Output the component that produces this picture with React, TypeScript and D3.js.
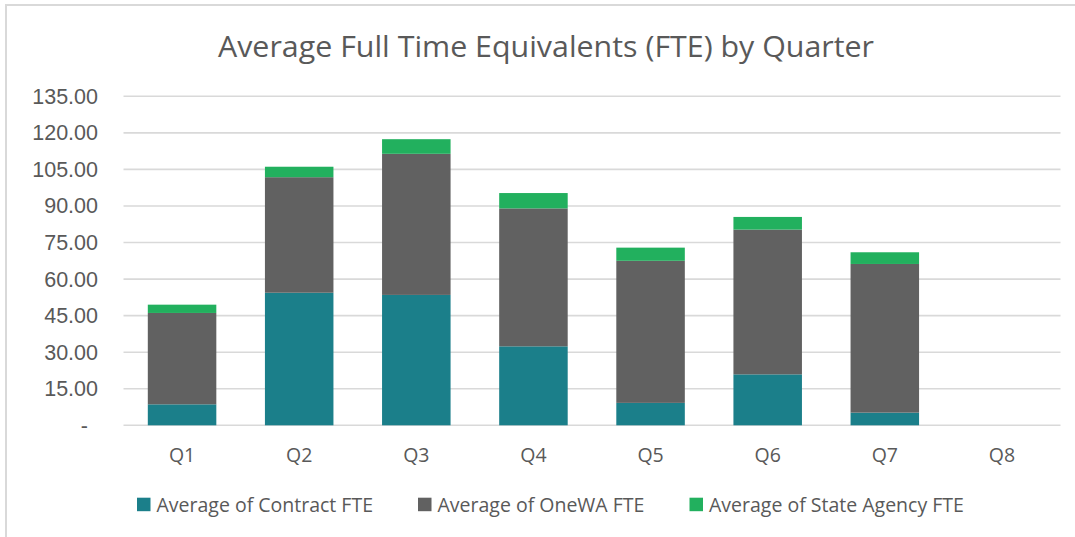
import { useMemo } from 'react';
import * as d3 from 'd3';

const quarters = ['Q1', 'Q2', 'Q3', 'Q4', 'Q5', 'Q6', 'Q7', 'Q8'];
const contractFte = [8.6, 54.4, 53.5, 32.4, 9.2, 20.9, 5.2, 0];
const oneWaFte = [37.5, 47.4, 57.9, 56.6, 58.3, 59.4, 61.0, 0];
const stateAgencyFte = [3.4, 4.3, 6.0, 6.3, 5.4, 5.2, 4.8, 0];
const seriesNames = ['Average of Contract FTE', 'Average of OneWA FTE', 'Average of State Agency FTE'];
const yTicks = [0, 15, 30, 45, 60, 75, 90, 105, 120, 135];

const colors = ['#1b7f8a', '#616161', '#22b05e'];
const width = 1075;
const height = 537;

type Row = { q: string; contract: number; onewa: number; state: number };

export default function App() {
  const rows: Row[] = quarters.map((q, i) => ({
    q,
    contract: contractFte[i],
    onewa: oneWaFte[i],
    state: stateAgencyFte[i],
  }));

  const stacked = useMemo(
    () => d3.stack<Row>().keys(['contract', 'onewa', 'state'])(rows),
    []
  );

  const x = d3.scaleBand().domain(quarters).range([123.5, 1060.5]).paddingInner(0.415).paddingOuter(0.2075);
  const y = d3.scaleLinear().domain([0, 135]).range([425.3, 96.3]);

  // legend layout (x of swatch for each entry)
  const legendX = [137, 418, 689.5];

  return (
    <svg width={width} height={height} style={{ position: 'absolute', left: 0, top: 0, background: '#fff' }}>
      {/* chart frame */}
      <line x1={6} x2={6} y1={4} y2={height} stroke="#d9d9d9" strokeWidth={2} />
      <line x1={5} x2={width} y1={5} y2={5} stroke="#d9d9d9" strokeWidth={2} />

      <text x={546} y={57} textAnchor="middle" fontFamily="Open Sans" fontSize={29.5} fill="#595959"
        textLength={656} lengthAdjust="spacingAndGlyphs">
        Average Full Time Equivalents (FTE) by Quarter
      </text>

      {/* gridlines */}
      {yTicks.map((t) => (
        <line key={t} x1={123.5} x2={1060.5} y1={y(t)} y2={y(t)} stroke="#d9d9d9" strokeWidth={1.6} />
      ))}

      {/* y labels */}
      {yTicks.map((t) => (
        <text
          key={t}
          x={t === 0 ? 88 : 98}
          y={y(t) + 7.5}
          textAnchor="end"
          fontFamily="Liberation Sans"
          fontSize={21.5}
          fill="#595959"
        >
          {t === 0 ? '-' : d3.format('.2f')(t)}
        </text>
      ))}

      {/* bars */}
      {stacked.map((s, si) => (
        <g key={s.key} fill={colors[si]}>
          {s.map((d) =>
            d[1] - d[0] > 0 ? (
              <rect
                key={d.data.q}
                x={x(d.data.q)}
                y={y(d[1])}
                width={x.bandwidth()}
                height={y(d[0]) - y(d[1])}
              />
            ) : null
          )}
        </g>
      ))}

      {/* x labels */}
      {quarters.map((q) => (
        <text
          key={q}
          x={(x(q) ?? 0) + x.bandwidth() / 2}
          y={462.3}
          textAnchor="middle"
          fontFamily="Open Sans"
          fontSize={19.5}
          fill="#595959"
        >
          {q}
        </text>
      ))}

      {/* legend */}
      {seriesNames.map((name, i) => (
        <g key={name}>
          <rect x={legendX[i]} y={497.7} width={13.5} height={13.5} fill={colors[i]} />
          <text x={legendX[i] + 19.5} y={511.5} fontFamily="Open Sans" fontSize={19.5} fill="#595959">
            {name}
          </text>
        </g>
      ))}
    </svg>
  );
}
